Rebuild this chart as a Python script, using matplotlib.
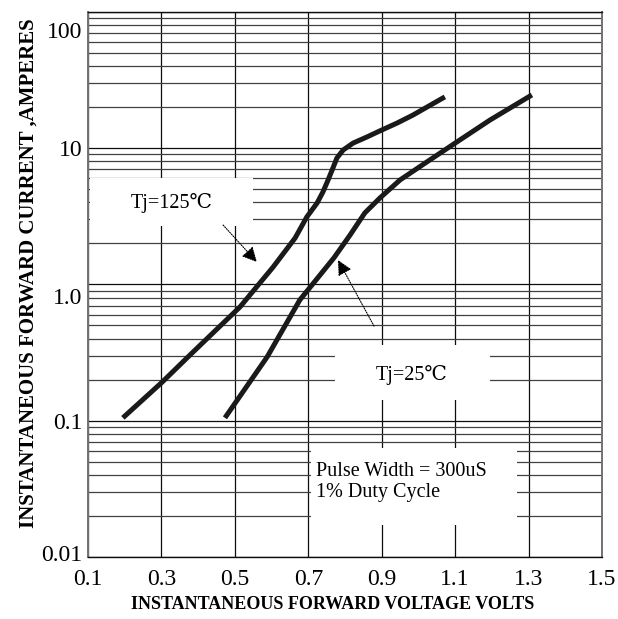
import matplotlib
matplotlib.use("Agg")
import matplotlib.pyplot as plt
import matplotlib.transforms as mtransforms
from matplotlib.patches import Rectangle
from matplotlib.ticker import LogLocator, NullFormatter, FixedLocator

# forward characteristics
v_125 = [0.195, 0.302, 0.378, 0.514, 0.604, 0.664, 0.696, 0.724, 0.740, 0.754, 0.765, 0.778, 0.795,
         0.822, 0.860, 0.895, 0.942, 0.985, 1.072]
i_125 = [0.105, 0.192, 0.304, 0.684, 1.34, 2.19, 3.13, 3.96, 4.78, 5.85, 6.92, 8.48, 9.70,
         10.9, 12.1, 13.4, 15.3, 17.5, 23.8]

v_25 = [0.473, 0.588, 0.677, 0.726, 0.770, 0.814, 0.854, 0.895, 0.950, 1.023, 1.100, 1.195, 1.309]
i_25 = [0.105, 0.294, 0.77, 1.12, 1.57, 2.31, 3.35, 4.31, 5.85, 7.93, 10.9, 16.1, 24.6]

x_ticks = [0.1, 0.3, 0.5, 0.7, 0.9, 1.1, 1.3, 1.5]
x_labels = ["0.1", "0.3", "0.5", "0.7", "0.9", "1.1", "1.3", "1.5"]
y_ticks = [0.01, 0.1, 1.0, 10, 100]
y_labels = ["0.01", "0.1", "1.0", "10", "100"]

serif = ["Liberation Serif", "DejaVu Serif", "Noto Sans CJK SC"]
plt.rcParams["font.family"] = serif

fig = plt.figure(figsize=(6.18, 6.19), dpi=100)
ax = fig.add_axes([0.1424, 0.1002, 0.8317, 0.8805])

ax.set_yscale("log")
ax.set_xlim(0.1, 1.5)
ax.set_ylim(0.01, 100)

# grid like log paper
ax.xaxis.set_major_locator(FixedLocator(x_ticks))
ax.set_xticklabels(x_labels)
ax.yaxis.set_major_locator(FixedLocator(y_ticks))
ax.set_yticklabels(y_labels)
ax.yaxis.set_minor_locator(LogLocator(base=10, subs=range(2, 10)))
ax.yaxis.set_minor_formatter(NullFormatter())
ax.set_axisbelow(True)
ax.grid(which="major", axis="both", color="0.05", lw=0.9)
ax.grid(which="minor", axis="y", color="0.25", lw=0.9)
ax.tick_params(which="both", length=0, labelsize=17)
ax.tick_params(axis="y", pad=4)
ax.tick_params(axis="x", pad=9)

for side in ["left", "right"]:
    ax.spines[side].set_color("0.45")
    ax.spines[side].set_linewidth(1.4)
for side in ["top", "bottom"]:
    ax.spines[side].set_color("0.05")
    ax.spines[side].set_linewidth(1.0)

# the hand-placed labels on the original sit a bit lower than their lines
for lab in ax.get_yticklabels():
    t = lab.get_text()
    dy = {"100": -18, "1.0": -12, "0.01": 4}.get(t, 0)
    lab.set_transform(lab.get_transform() + mtransforms.ScaledTranslation(0, dy / 100, fig.dpi_scale_trans))

# curves
for v, i in [(v_125, i_125), (v_25, i_25)]:
    ax.plot(v, i, color="#1a1a1a", lw=3.6, solid_capstyle="butt", solid_joinstyle="round", zorder=3)

# white label boxes knocking out the grid
for x0, y0, w, h in [(0.004, 0.607, 0.317, 0.088), (0.4805, 0.288, 0.3015, 0.101), (0.434, 0.0587, 0.401, 0.1413)]:
    ax.add_patch(Rectangle((x0, y0), w, h, transform=ax.transAxes, facecolor="white", edgecolor="none", zorder=2))

ax.text(0.163, 0.650, "Tj=125℃", transform=ax.transAxes, ha="center", va="center", fontsize=14.5, zorder=4)
ax.text(0.630, 0.334, "Tj=25℃", transform=ax.transAxes, ha="center", va="center", fontsize=14.5, zorder=4)
ax.text(0.4436, 0.1376, "Pulse Width = 300uS\n1% Duty Cycle", transform=ax.transAxes,
        ha="left", va="center", fontsize=14.5, linespacing=1.15, zorder=4)

arrow = dict(arrowstyle="-|>,head_length=0.9,head_width=0.45", color="black", lw=0.8,
             linestyle=(0, (1, 1.2)), shrinkA=0, shrinkB=0)
ax.annotate("", xy=(0.560, 1.46), xytext=(0.468, 2.73), arrowprops=arrow, zorder=4)
ax.annotate("", xy=(0.781, 1.51), xytext=(0.879, 0.495), arrowprops=arrow, zorder=4)

ax.set_xlabel("INSTANTANEOUS FORWARD VOLTAGE VOLTS", fontsize=13, fontweight="bold", labelpad=4, x=0.476)
ax.set_ylabel("INSTANTANEOUS FORWARD CURRENT ,AMPERES", fontsize=15, fontweight="bold", labelpad=2, y=0.52)

fig.savefig("out.png", dpi=100)
